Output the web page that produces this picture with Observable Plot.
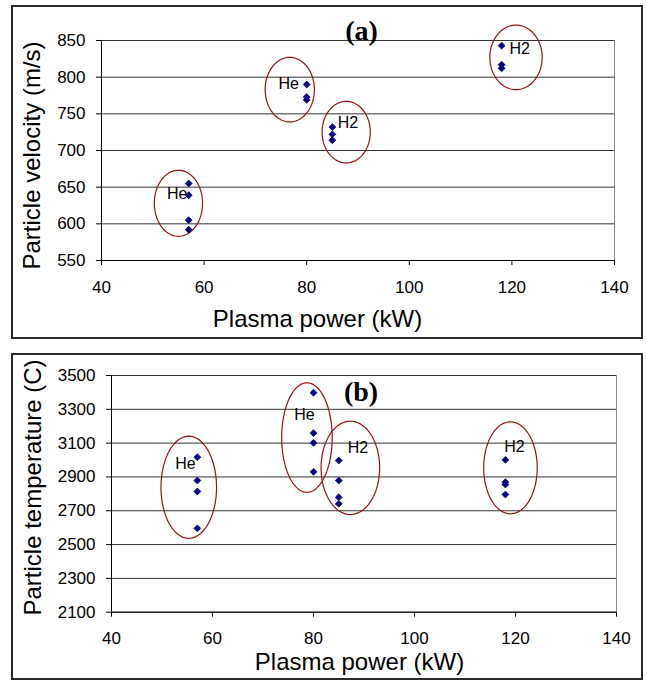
<!DOCTYPE html>
<html>
<head>
<meta charset="utf-8">
<script src="https://cdn.jsdelivr.net/npm/d3@7"></script>
<script src="https://cdn.jsdelivr.net/npm/@observablehq/plot@0.6"></script>
<style>
  html, body { margin: 0; padding: 0; background: #fff; }
  #wrap { position: relative; width: 647px; height: 680px; overflow: hidden; background: #fff; }
  .box { position: absolute; border: 2px solid #2a2a2a; box-sizing: border-box; }
  .panel { position: absolute; left: 0; }
</style>
</head>
<body>
<div id="wrap">
  <div class="box" style="left:11px; top:5px; width:632px; height:334px;"></div>
  <div class="box" style="left:11px; top:353px; width:632px; height:327px;"></div>
  <div class="panel" id="pa" style="top:0px;"></div>
  <div class="panel" id="pb" style="top:340px;"></div>
</div>
<script>
// ---------- data ----------
const xTicks = [40, 60, 80, 100, 120, 140];
const velTicks = [550, 600, 650, 700, 750, 800, 850];
const tempTicks = [2100, 2300, 2500, 2700, 2900, 3100, 3300, 3500];

// panel (a): particle velocity
const velPower = [57, 57, 57, 57, 80, 80, 80, 85, 85, 85, 118, 118, 118];
const velValue = [655, 639, 605, 592, 790, 773, 769, 732, 722, 714, 843, 817, 812];

// panel (b): particle temperature
const tempPower = [57, 57, 57, 57, 80, 80, 80, 80, 85, 85, 85, 85, 118, 118, 118, 118];
const tempValue = [3017, 2879, 2814, 2596, 3398, 3159, 3102, 2930, 2997, 2879, 2780, 2741, 3001, 2869, 2855, 2796];

// group annotations (gas) and their circling ellipses, in data units
const groupGas = ["He", "He", "H2", "H2"];
const labelPowerA = [54.75, 76.5, 88.05, 121.5];
const labelVelA = [641, 791, 737, 839];
const ellCxA = [55.0, 76.7, 87.7, 120.8];
const ellCyA = [628, 783, 725, 827];
const ellRxA = [4.7, 4.8, 4.7, 5.1];
const ellRyA = [45, 44, 42, 44];

const labelPowerB = [54.65, 78.2, 88.8, 119.8];
const labelTempB = [2977, 3265, 3074, 3080];
const ellCxB = [55.3, 78.7, 87.3, 119.0];
const ellCyB = [2839, 3133, 2954, 2954];
const ellRxB = [5.5, 5.0, 5.8, 5.3];
const ellRyB = [302, 324, 276, 272];

const xLabel = "Plasma power (kW)";
const yLabelA = "Particle velocity (m/s)";
const yLabelB = "Particle temperature (C)";

// ---------- helpers ----------
function ellipsePoints(cx, cy, rx, ry) {
  const pts = [];
  cx.forEach((c, i) => {
    for (let k = 0; k <= 96; k++) {
      const t = (k / 96) * 2 * Math.PI;
      pts.push({g: i, x: c + rx[i] * Math.cos(t), y: cy[i] + ry[i] * Math.sin(t)});
    }
  });
  return pts;
}

function panel(o) {
  const pts = o.xs.map((x, i) => ({x, y: o.ys[i]}));
  const labels = groupGas.map((g, i) => ({g, x: o.lx[i], y: o.ly[i]}));
  const yd = [o.yTicks[0], o.yTicks[o.yTicks.length - 1]];
  const xd = [xTicks[0], xTicks[xTicks.length - 1]];
  return Plot.plot({
    width: 647,
    height: 340,
    marginLeft: o.ml, marginRight: o.mr, marginTop: o.mt, marginBottom: o.mb,
    style: {fontFamily: "'Liberation Sans', Arial, sans-serif", fontSize: "17px", color: "#000", background: "transparent", overflow: "visible"},
    x: {domain: xd},
    y: {domain: yd},
    marks: [
      Plot.ruleY(o.yTicks, {stroke: "#333", strokeWidth: 1}),
      Plot.ruleX([xd[1]], {stroke: "#8a8a8a", strokeWidth: 1}),
      Plot.ruleX([xd[0]], {stroke: "#000", strokeWidth: 1}),
      Plot.ruleY([yd[0]], {stroke: "#000", strokeWidth: 1}),
      Plot.axisX({ticks: xTicks, tickSize: 5, tickPadding: 15, tickFormat: d => String(d), label: null}),
      Plot.axisY({ticks: o.yTicks, tickSize: 5, tickPadding: 11, tickFormat: d => String(d), label: null}),
      Plot.line(ellipsePoints(o.ecx, o.ecy, o.erx, o.ery), {x: "x", y: "y", z: "g", stroke: "#991111", strokeWidth: 1.2}),
      Plot.dot(pts, {x: "x", y: "y", symbol: "diamond2", r: 3.1, fill: "#000080", stroke: "#000080", strokeWidth: 0.8}),
      Plot.text(labels, {x: "x", y: "y", text: "g", fontSize: 16, fill: "#000"}),
      Plot.text([o.title], {frameAnchor: "top-left", textAnchor: "middle", lineAnchor: "middle", dx: o.tdx, dy: o.tdy, fontFamily: "'Liberation Serif', 'Times New Roman', serif", fontWeight: "bold", fontSize: 28, fill: "#000"}),
      Plot.text([o.yLabel], {frameAnchor: "bottom-left", rotate: -90, textAnchor: "start", lineAnchor: "middle", dx: o.ydx, dy: o.ydy, fontSize: 24, fill: "#000"}),
      Plot.text([xLabel], {frameAnchor: "bottom-left", textAnchor: "middle", lineAnchor: "middle", dx: o.xdx, dy: o.xdy, fontSize: 24, fill: "#000"})
    ]
  });
}

document.getElementById("pa").appendChild(panel({
  xs: velPower, ys: velValue, yTicks: velTicks,
  lx: labelPowerA, ly: labelVelA,
  ecx: ellCxA, ecy: ellCyA, erx: ellRxA, ery: ellRyA,
  ml: 101, mr: 33, mt: 40, mb: 80,
  title: "(a)", tdx: 260, tdy: -9,
  yLabel: yLabelA, ydx: -69, ydy: 9,
  xdx: 216, xdy: 59
}));

document.getElementById("pb").appendChild(panel({
  xs: tempPower, ys: tempValue, yTicks: tempTicks,
  lx: labelPowerB, ly: labelTempB,
  ecx: ellCxB, ecy: ellCyB, erx: ellRxB, ery: ellRyB,
  ml: 111, mr: 31, mt: 35, mb: 68.3,
  title: "(b)", tdx: 249.5, tdy: 17,
  yLabel: yLabelB, ydx: -78.5, ydy: 3.3,
  xdx: 248, xdy: 50
}));
</script>
</body>
</html>
